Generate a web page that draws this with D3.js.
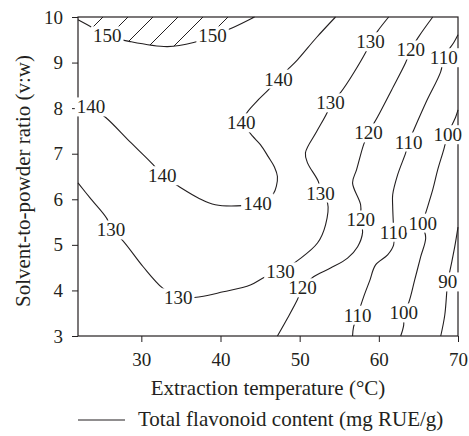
<!DOCTYPE html>
<html lang="en">
<head>
    <meta charset="UTF-8">
    <title>Total flavonoid content contour</title>
    <script src="https://d3js.org/d3.v7.min.js"></script>
    <style>
        body {
            margin: 0;
            background: #fff;
        }
        svg text {
            font-family: "Liberation Serif", "DejaVu Serif", serif;
        }
        .axis text {
            font-size: 19px;
            fill: #231f20;
        }
        .axis line {
            stroke: #231f20;
        }
        .contour {
            fill: none;
            stroke: #231f20;
            stroke-width: 1.1;
        }
        .clabel {
            font-size: 19px;
            fill: #231f20;
        }
    </style>
</head>
<body>
    <div id="chart"></div>

    <script>
        // Assen
        const tempDomain = [22, 70];
        const ratioDomain = [3, 10];
        const xTicks = [30, 40, 50, 60, 70];
        const yTicks = [3, 4, 5, 6, 7, 8, 9, 10];

        // Contourlijnen: [temperatuur, verhouding]
        const tfc150 = [[22, 9.94], [23.9, 9.76], [25.7, 9.59], [28.6, 9.46], [33.3, 9.35],
                        [36.6, 9.44], [39.0, 9.59], [41.6, 9.77], [44.3, 10]];
        const tfc140 = [[22, 8.18], [23.65, 8.03], [25.54, 7.79], [28.58, 7.26], [31.49, 6.76],
                        [32.63, 6.52], [34.66, 6.29], [37.19, 6.03], [39.34, 5.88], [42.76, 5.86],
                        [44.53, 5.90], [45.92, 5.99], [46.68, 6.12], [47.06, 6.29], [47.19, 6.50],
                        [46.81, 6.71], [46.05, 6.93], [45.04, 7.20], [44.03, 7.39], [43.27, 7.57],
                        [43.01, 7.70], [43.27, 7.88], [44.53, 8.14], [46.05, 8.40], [47.32, 8.64],
                        [48.46, 8.84], [49.72, 9.06], [52.13, 9.55], [54.53, 10]];
        const tfc130 = [[22, 6.36], [23.52, 6.03], [25.67, 5.57], [26.18, 5.33], [27.57, 5.11],
                        [30.23, 4.52], [32.63, 4.06], [34.66, 3.84], [37.44, 3.86], [40.35, 3.97],
                        [43.77, 4.12], [45.67, 4.30], [47.57, 4.41], [49.85, 4.67], [52.25, 5.04],
                        [53.27, 5.44], [53.52, 5.92], [52.63, 6.14], [52.38, 6.38], [50.99, 6.80],
                        [50.73, 7.02], [52.13, 7.48], [53.52, 7.92], [53.90, 8.12], [55.16, 8.34],
                        [58.33, 9.22], [58.96, 9.46], [59.97, 9.72], [61.24, 10]];
        const tfc120 = [[47.19, 3], [48.46, 3.39], [49.72, 3.80], [50.35, 4.06], [51.75, 4.30],
                        [53.90, 4.49], [56.05, 4.71], [57.32, 4.96], [57.95, 5.28], [57.70, 5.55],
                        [57.70, 5.88], [56.68, 6.36], [57.19, 6.65], [58.08, 7.20], [58.71, 7.46],
                        [59.85, 7.81], [61.62, 8.40], [63.39, 9.00], [64.03, 9.28], [65.04, 9.57],
                        [66.81, 10]];
        const tfc110 = [[56.68, 3], [56.81, 3.20], [57.32, 3.46], [58.08, 3.86], [58.84, 4.21],
                        [59.59, 4.56], [61.11, 4.78], [61.87, 5.00], [61.87, 5.28], [61.75, 5.84],
                        [61.75, 6.10], [62.38, 6.54], [63.39, 7.02], [63.77, 7.26], [64.41, 7.52],
                        [66.05, 8.16], [67.82, 8.80], [68.20, 9.11], [69.47, 9.44], [70, 9.61]];
        const tfc100 = [[62.76, 3], [63.14, 3.24], [63.14, 3.51], [63.77, 3.73], [64.53, 4.23],
                        [65.29, 4.74], [65.92, 5.15], [65.54, 5.48], [65.92, 5.70], [66.81, 6.21],
                        [67.44, 6.65], [68.20, 7.09], [68.71, 7.42], [69.72, 7.81], [70, 7.96]];
        const tfc90 = [[67.82, 3], [68.33, 3.46], [68.71, 4.19], [69.09, 4.52], [69.59, 4.96],
                       [70, 5.39]];

        // Plaats van de waardelabels: [temperatuur, verhouding]
        const lab150 = [[25.7, 9.59], [39.0, 9.59]];
        const lab140 = [[23.65, 8.03], [32.63, 6.52], [44.66, 5.92], [42.63, 7.68], [47.32, 8.64]];
        const lab130 = [[26.18, 5.33], [34.66, 3.84], [47.57, 4.41], [52.63, 6.14], [53.90, 8.12], [58.96, 9.46]];
        const lab120 = [[50.35, 4.06], [57.70, 5.55], [58.71, 7.46], [64.03, 9.28]];
        const lab110 = [[57.32, 3.46], [61.87, 5.28], [63.77, 7.26], [68.20, 9.11]];
        const lab100 = [[63.14, 3.51], [65.54, 5.48], [68.71, 7.42]];
        const lab90 = [[68.71, 4.19]];

        const contours = [
            { level: 150, pts: tfc150, labels: lab150 },
            { level: 140, pts: tfc140, labels: lab140 },
            { level: 130, pts: tfc130, labels: lab130 },
            { level: 120, pts: tfc120, labels: lab120 },
            { level: 110, pts: tfc110, labels: lab110 },
            { level: 100, pts: tfc100, labels: lab100 },
            { level: 90, pts: tfc90, labels: lab90 }
        ];

        const W = 469, H = 436;
        const margin = { top: 17, right: 11, bottom: 100, left: 78 },
              width = W - margin.left - margin.right,
              height = H - margin.top - margin.bottom;
        const ink = "#231f20";

        const svgRoot = d3.select("#chart").append("svg")
            .attr("width", W)
            .attr("height", H);

        const svg = svgRoot.append("g")
            .attr("transform", `translate(${margin.left},${margin.top})`);

        const x = d3.scaleLinear().domain(tempDomain).range([0, width]);
        const y = d3.scaleLinear().domain(ratioDomain).range([height, 0]);

        // Arcering voor het gebied boven 150
        const defs = svgRoot.append("defs");
        const pat = defs.append("pattern")
            .attr("id", "hatch")
            .attr("patternUnits", "userSpaceOnUse")
            .attr("width", 25).attr("height", 25);
        pat.append("path")
            .attr("d", "M-5,5 L5,-5 M0,25 L25,0 M20,30 L30,20")
            .attr("stroke", ink)
            .attr("stroke-width", 1);

        const line = d3.line()
            .x(d => x(d[0]))
            .y(d => y(d[1]))
            .curve(d3.curveCatmullRom.alpha(0.5));

        // Gebied boven de 150-lijn
        const first = tfc150[0], last = tfc150[tfc150.length - 1];
        svg.append("path")
            .attr("d", line(tfc150) +
                `L${x(last[0])},${y(ratioDomain[1])}L${x(first[0])},${y(ratioDomain[1])}Z`)
            .attr("fill", "url(#hatch)");

        // Kader
        svg.append("rect")
            .attr("width", width)
            .attr("height", height)
            .attr("fill", "none")
            .attr("stroke", ink)
            .attr("stroke-width", 1.2);

        // Assen
        const xAxis = svg.append("g")
            .attr("class", "axis")
            .attr("transform", `translate(0,${height})`)
            .call(d3.axisBottom(x).tickValues(xTicks).tickFormat(d3.format("d"))
                .tickSize(6).tickSizeOuter(0).tickPadding(11));
        const yAxis = svg.append("g")
            .attr("class", "axis")
            .call(d3.axisLeft(y).tickValues(yTicks).tickFormat(d3.format("d"))
                .tickSize(6).tickSizeOuter(0).tickPadding(9));
        xAxis.select(".domain").remove();
        yAxis.select(".domain").remove();
        xAxis.attr("font-family", null).attr("font-size", null);
        yAxis.attr("font-family", null).attr("font-size", null);

        // Contourlijnen
        svg.selectAll("path.contour")
            .data(contours)
            .enter().append("path")
            .attr("class", "contour")
            .attr("d", d => line(d.pts));

        // Labels met witte achtergrond
        const labelData = [];
        contours.forEach(c => c.labels.forEach(p => labelData.push({ level: c.level, p })));

        const lab = svg.selectAll("g.lab")
            .data(labelData)
            .enter().append("g")
            .attr("class", "lab")
            .attr("transform", d => `translate(${x(d.p[0])},${y(d.p[1])})`);

        lab.append("rect").attr("fill", "#fff");
        lab.append("text")
            .attr("class", "clabel")
            .attr("text-anchor", "middle")
            .attr("dy", "0.35em")
            .text(d => d.level);

        lab.each(function() {
            const g = d3.select(this);
            const b = g.select("text").node().getBBox();
            g.select("rect")
                .attr("x", b.x - 2)
                .attr("y", b.y + 1)
                .attr("width", b.width + 4)
                .attr("height", b.height - 2);
        });

        // Astitels
        svgRoot.append("text")
            .attr("x", margin.left + width / 2)
            .attr("y", 395)
            .attr("text-anchor", "middle")
            .attr("font-size", 21)
            .attr("fill", ink)
            .text("Extraction temperature (°C)");

        svgRoot.append("text")
            .attr("transform", "translate(30,181) rotate(-90)")
            .attr("text-anchor", "middle")
            .attr("font-size", 21)
            .attr("fill", ink)
            .text("Solvent-to-powder ratio (v:w)");

        // Legenda
        svgRoot.append("line")
            .attr("x1", 78).attr("x2", 125)
            .attr("y1", 420).attr("y2", 420)
            .attr("stroke", ink)
            .attr("stroke-width", 1.1);
        svgRoot.append("text")
            .attr("x", 138)
            .attr("y", 426)
            .attr("font-size", 21)
            .attr("fill", ink)
            .text("Total flavonoid content (mg RUE/g)");
    </script>
</body>
</html>
